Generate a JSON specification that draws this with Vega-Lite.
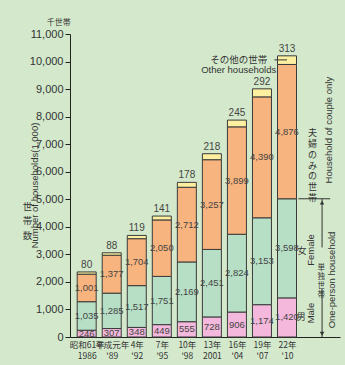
{
  "$schema": "https://vega.github.io/schema/vega-lite/v6.json",
  "width": 270,
  "height": 303,
  "autosize": {"type": "none"},
  "padding": {"left": 70, "top": 34, "right": 5, "bottom": 28},
  "background": "#d4e9cc",
  "config": {"view": {"stroke": null}},
  "datasets": {
    "households": [
      {"year": 1986, "type": "Male", "value": 246}, {"year": 1986, "type": "Female", "value": 1035}, {"year": 1986, "type": "Couple", "value": 1001}, {"year": 1986, "type": "Other", "value": 80},
      {"year": 1989, "type": "Male", "value": 307}, {"year": 1989, "type": "Female", "value": 1285}, {"year": 1989, "type": "Couple", "value": 1377}, {"year": 1989, "type": "Other", "value": 88},
      {"year": 1992, "type": "Male", "value": 348}, {"year": 1992, "type": "Female", "value": 1517}, {"year": 1992, "type": "Couple", "value": 1704}, {"year": 1992, "type": "Other", "value": 119},
      {"year": 1995, "type": "Male", "value": 449}, {"year": 1995, "type": "Female", "value": 1751}, {"year": 1995, "type": "Couple", "value": 2050}, {"year": 1995, "type": "Other", "value": 141},
      {"year": 1998, "type": "Male", "value": 555}, {"year": 1998, "type": "Female", "value": 2169}, {"year": 1998, "type": "Couple", "value": 2712}, {"year": 1998, "type": "Other", "value": 178},
      {"year": 2001, "type": "Male", "value": 728}, {"year": 2001, "type": "Female", "value": 2451}, {"year": 2001, "type": "Couple", "value": 3257}, {"year": 2001, "type": "Other", "value": 218},
      {"year": 2004, "type": "Male", "value": 906}, {"year": 2004, "type": "Female", "value": 2824}, {"year": 2004, "type": "Couple", "value": 3899}, {"year": 2004, "type": "Other", "value": 245},
      {"year": 2007, "type": "Male", "value": 1174}, {"year": 2007, "type": "Female", "value": 3153}, {"year": 2007, "type": "Couple", "value": 4390}, {"year": 2007, "type": "Other", "value": 292},
      {"year": 2010, "type": "Male", "value": 1420}, {"year": 2010, "type": "Female", "value": 3598}, {"year": 2010, "type": "Couple", "value": 4876}, {"year": 2010, "type": "Other", "value": 313}
    ]
  },
  "encoding": {
    "x": {
      "field": "year", "type": "quantitative", "title": null,
      "scale": {"domain": [1984.6, 2015.75], "nice": false, "zero": false},
      "axis": {
        "values": [1986, 1989, 1992, 1995, 1998, 2001, 2004, 2007, 2010],
        "labelExpr": "datum.value == 1986 ? ['昭和61年', '1986'] : datum.value == 1989 ? ['平成元年', \"'89\"] : datum.value == 2001 ? ['13年', '2001'] : [(datum.value - 1988) + '年', \"'\" + substring(toString(datum.value), 2)]",
        "ticks": false, "grid": false, "domainColor": "#222", "domainWidth": 1,
        "labelPadding": 3, "labelLineHeight": 11, "labelFontSize": 8.5,
        "labelFont": "Liberation Sans Narrow, Noto Sans CJK JP, sans-serif",
        "labelColor": "#333", "labelFlush": false, "labelOverlap": false, "labelBaseline": "top"
      }
    },
    "y": {
      "field": "v", "type": "quantitative", "title": "Number of households(1,000)",
      "scale": {"domain": [0, 11000], "nice": false},
      "axis": {
        "values": [0, 1000, 2000, 3000, 4000, 5000, 6000, 7000, 8000, 9000, 10000, 11000],
        "format": ",d", "grid": false, "tickSize": 5, "tickColor": "#222", "domainColor": "#222",
        "labelPadding": 2, "labelFontSize": 11, "labelColor": "#333", "labelOverlap": false,
        "labelFont": "Liberation Sans Narrow, Liberation Sans, sans-serif",
        "titleX": -36, "titleY": 151, "titleAngle": 270, "titleAlign": "center", "titleBaseline": "middle",
        "titleFontSize": 9.5, "titleFontWeight": "normal", "titleColor": "#333",
        "titleFont": "Liberation Sans, sans-serif"
      }
    }
  },
  "layer": [
    {
      "data": {"name": "households"},
      "transform": [
        {"calculate": "indexof(['Male','Female','Couple','Other'], datum.type)", "as": "ord"},
        {"stack": "value", "groupby": ["year"], "sort": [{"field": "ord", "order": "ascending"}], "as": ["v", "v1"]}
      ],
      "mark": {"type": "bar", "width": 19, "stroke": "#3a3a3a", "strokeWidth": 1},
      "encoding": {
        "y2": {"field": "v1"},
        "color": {
          "field": "type", "type": "nominal", "legend": null,
          "scale": {"domain": ["Male", "Female", "Couple", "Other"], "range": ["#f4b8dc", "#b6dfc5", "#f8b47e", "#fcf0a0"]}
        }
      }
    },
    {
      "data": {"name": "households"},
      "transform": [
        {"calculate": "indexof(['Male','Female','Couple','Other'], datum.type)", "as": "ord"},
        {"stack": "value", "groupby": ["year"], "sort": [{"field": "ord", "order": "ascending"}], "as": ["s0", "s1"]},
        {"filter": "datum.type != 'Other'"},
        {"calculate": "(datum.s0 + datum.s1) / 2", "as": "v"}
      ],
      "mark": {"type": "text", "font": "Liberation Sans Narrow, Liberation Sans, sans-serif", "fontSize": 9.5, "color": "#444", "baseline": "middle"},
      "encoding": {
        "text": {"field": "value", "type": "quantitative", "format": ",d"}
      }
    },
    {
      "data": {"name": "households"},
      "transform": [
        {"calculate": "indexof(['Male','Female','Couple','Other'], datum.type)", "as": "ord"},
        {"stack": "value", "groupby": ["year"], "sort": [{"field": "ord", "order": "ascending"}], "as": ["s0", "v"]},
        {"filter": "datum.type == 'Other'"}
      ],
      "mark": {"type": "text", "font": "Liberation Sans Narrow, Liberation Sans, sans-serif", "fontSize": 10, "color": "#444", "baseline": "bottom", "dy": -2},
      "encoding": {
        "text": {"field": "value", "type": "quantitative", "format": ",d"}
      }
    },
    {
      "data": {"values": [{"year": 1982.64, "v": 11400, "text": "千世帯"}]},
      "mark": {"type": "text", "font": "Noto Sans CJK JP", "fontSize": 8, "color": "#333", "baseline": "middle"},
      "encoding": {"text": {"field": "text", "type": "nominal"}}
    },
    {
      "data": {"values": [
        {"year": 2004.21, "v": 10060, "text": "その他の世帯"},
        {"year": 2004.21, "v": 9690, "text": "Other households"}
      ]},
      "mark": {"type": "text", "font": "Liberation Sans, Noto Sans CJK JP, sans-serif", "fontSize": 9.5, "color": "#333", "baseline": "middle"},
      "encoding": {"text": {"field": "text", "type": "nominal"}}
    },
    {
      "data": {"values": [
        {"year": 2011.8, "v": 3120, "text": "女"},
        {"year": 2011.7, "v": 730, "text": "男"}
      ]},
      "mark": {"type": "text", "font": "Noto Sans CJK JP", "fontSize": 9, "color": "#333", "baseline": "middle"},
      "encoding": {"text": {"field": "text", "type": "nominal"}}
    },
    {
      "data": {"values": [
        {"year": 2012.92, "v": 3160, "text": "Female"},
        {"year": 2012.87, "v": 870, "text": "Male"},
        {"year": 2015.34, "v": 2070, "text": "One-person household"},
        {"year": 2015.05, "v": 7510, "text": "Household of couple only"}
      ]},
      "mark": {"type": "text", "font": "Liberation Sans, sans-serif", "fontSize": 9.5, "color": "#333", "baseline": "middle", "align": "center", "angle": 270},
      "encoding": {"text": {"field": "text", "type": "nominal"}}
    },
    {
      "data": {"values": [{"year": 1978.9, "v": 4720, "text": "世\n帯\n数"}]},
      "mark": {"type": "text", "font": "Noto Sans CJK JP", "fontSize": 9.5, "lineHeight": 14.5, "lineBreak": "\n", "color": "#333", "baseline": "middle"},
      "encoding": {"text": {"field": "text", "type": "nominal"}}
    },
    {
      "data": {"values": [{"year": 2013.05, "v": 7410, "text": "夫\n婦\nの\nみ\nの\n世\n帯"}]},
      "mark": {"type": "text", "font": "Noto Sans CJK JP", "fontSize": 9, "lineHeight": 10.9, "lineBreak": "\n", "color": "#333", "baseline": "middle"},
      "encoding": {"text": {"field": "text", "type": "nominal"}}
    },
    {
      "data": {"values": [{"year": 2014.1, "v": 2500, "text": "単\n独\n世\n帯"}]},
      "mark": {"type": "text", "font": "Noto Sans CJK JP", "fontSize": 7.5, "lineHeight": 9, "lineBreak": "\n", "color": "#333", "baseline": "middle"},
      "encoding": {"text": {"field": "text", "type": "nominal"}}
    },
    {
      "data": {"values": [
        {"year": 2011.36, "year2": 2015.17, "v": 5018, "v2": 5018},
        {"year": 2014.2, "year2": 2014.2, "v": 3250, "v2": 5018},
        {"year": 2014.2, "year2": 2014.2, "v": 0, "v2": 1750},
        {"year": 2008.48, "year2": 2010.0, "v": 10060, "v2": 10060}
      ]},
      "mark": {"type": "rule", "color": "#333", "strokeWidth": 1},
      "encoding": {
        "x2": {"field": "year2"},
        "y2": {"field": "v2"}
      }
    },
    {
      "data": {"values": [{"year": 2014.2, "v": 4880}]},
      "mark": {"type": "point", "shape": "triangle-up", "filled": true, "color": "#333", "size": 20, "opacity": 1}
    },
    {
      "data": {"values": [{"year": 2014.2, "v": 120}]},
      "mark": {"type": "point", "shape": "triangle-down", "filled": true, "color": "#333", "size": 20, "opacity": 1}
    }
  ]
}
